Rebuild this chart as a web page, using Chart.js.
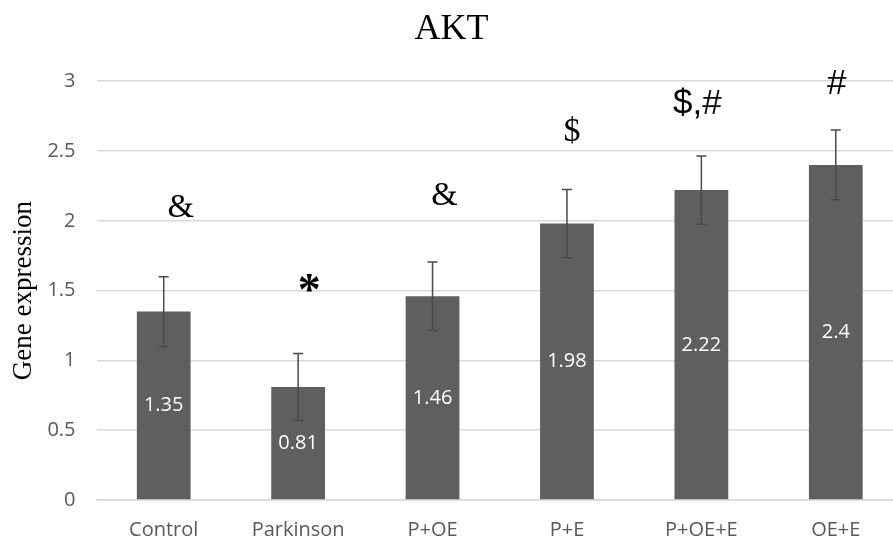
<!DOCTYPE html>
<html>
<head>
<meta charset="utf-8">
<title>AKT</title>
<script src="https://cdn.jsdelivr.net/npm/chart.js@4.4.1/dist/chart.umd.min.js"></script>
<style>
    html, body { margin: 0; padding: 0; background: #fff; overflow: hidden; }
    canvas { display: block; }
</style>
</head>
<body>
<canvas id="akt" width="903" height="541"></canvas>
<script>
// данни, прочетени от графиката
const groups = ['Control', 'Parkinson', 'P+OE', 'P+E', 'P+OE+E', 'OE+E'];
const expression = [1.35, 0.81, 1.46, 1.98, 2.22, 2.4];
const errors = [0.25, 0.24, 0.245, 0.245, 0.245, 0.25];
const marks = ['&', '*', '&', '$', '$,#', '#'];
const yTicks = [0, 0.5, 1, 1.5, 2, 2.5, 3];

const barColor = '#5f5f5f';
const textGray = '#595959';

// error bars, числата в стълбовете и знаците над тях
const barExtras = {
    id: 'barExtras',
    afterDatasetsDraw(chart) {
        const ctx = chart.ctx;
        const y = chart.scales.y;
        const meta = chart.getDatasetMeta(0);
        // отместване на знаците спрямо горния край на грешката (px)
        const lift = [69, 67, 66, 57, 52, 46];
        const shift = [17, 11, 12, 5, -4, 1];
        // шрифт на всеки знак (в оригинала са смесени)
        const markFont = [
            '34px "Liberation Serif"',
            'bold 46px "Liberation Serif"',
            '34px "Liberation Serif"',
            '34px "Liberation Serif"',
            '35px "Liberation Sans"',
            '35px "Liberation Sans"'
        ];

        ctx.save();
        ctx.strokeStyle = '#4a4a4a';
        ctx.lineWidth = 1.5;
        meta.data.forEach((bar, i) => {
            const top = y.getPixelForValue(expression[i] + errors[i]);
            const bot = y.getPixelForValue(expression[i] - errors[i]);
            ctx.beginPath();
            ctx.moveTo(bar.x, top);
            ctx.lineTo(bar.x, bot);
            ctx.moveTo(bar.x - 5, top);
            ctx.lineTo(bar.x + 5, top);
            ctx.moveTo(bar.x - 5, bot);
            ctx.lineTo(bar.x + 5, bot);
            ctx.stroke();

            // стойността в средата на стълба
            ctx.fillStyle = '#ffffff';
            ctx.font = '20px "Open Sans"';
            ctx.textAlign = 'center';
            ctx.textBaseline = 'middle';
            ctx.fillText(String(expression[i]), bar.x, y.getPixelForValue(expression[i] / 2));

            // знак за статистическа значимост
            ctx.fillStyle = '#000000';
            ctx.font = markFont[i];
            const my = marks[i] === '*' ? top - lift[i] + 7 : top - lift[i];
            ctx.fillText(marks[i], bar.x + shift[i], my);
        });
        ctx.restore();
    }
};

const canvas = document.getElementById('akt');
new Chart(canvas, {
    type: 'bar',
    data: {
        labels: groups,
        datasets: [{
            data: expression,
            backgroundColor: barColor,
            borderWidth: 0,
            categoryPercentage: 1,
            barPercentage: 0.4
        }]
    },
    options: {
        responsive: false,
        animation: false,
        layout: { padding: 0 },
        scales: {
            x: {
                afterFit: (scale) => {
                    scale.height = 41;
                },
                grid: { display: false, drawTicks: false },
                border: { display: true, color: '#d9d9d9', width: 1.5 },
                ticks: {
                    color: textGray,
                    padding: 18,
                    maxRotation: 0,
                    font: { family: 'Open Sans', size: 20 }
                }
            },
            y: {
                min: 0,
                max: 3,
                afterBuildTicks: (scale) => {
                    scale.ticks = yTicks.map(v => ({ value: v }));
                },
                afterFit: (scale) => {
                    scale.width = 96.5;
                },
                grid: { color: '#d9d9d9', lineWidth: 1.5, drawTicks: false },
                border: { display: false },
                ticks: {
                    color: textGray,
                    padding: 21,
                    font: { family: 'Open Sans', size: 20 },
                    callback: (v) => String(v)
                },
                title: {
                    display: true,
                    text: 'Gene expression',
                    color: '#000000',
                    padding: { top: 8, bottom: 0 },
                    font: { family: 'Liberation Serif', size: 27 }
                }
            }
        },
        plugins: {
            legend: { display: false },
            tooltip: { enabled: false },
            title: {
                display: true,
                text: 'AKT',
                color: '#000000',
                padding: { top: 8, bottom: 30 },
                font: { family: 'Liberation Serif', size: 36, weight: 'normal' }
            }
        }
    },
    plugins: [barExtras]
});
</script>
</body>
</html>
